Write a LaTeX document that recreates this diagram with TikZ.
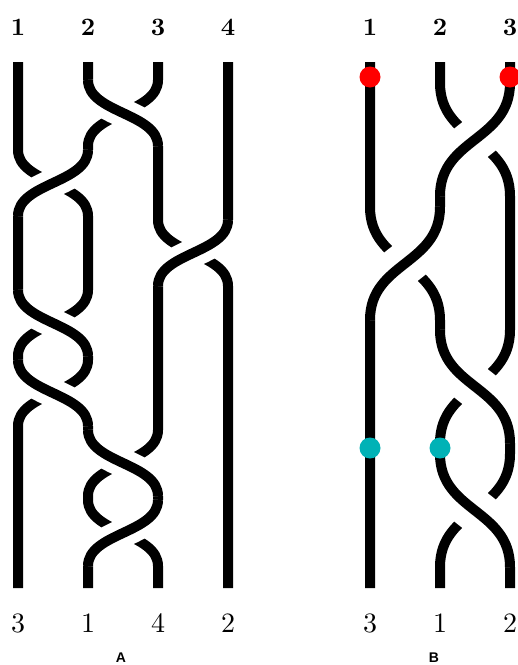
\documentclass[tikz,border=0pt]{standalone}
\usepackage{fontspec}
\newfontfamily\panelfont{Liberation Sans}
\newfontfamily\digitfont{lmroman10-regular}[Extension=.otf]
\newfontfamily\digitbold{lmroman10-bold}[Extension=.otf]
\definecolor{dotred}{RGB}{255,0,0}
\definecolor{dotcyan}{RGB}{0,178,182}
\tikzset{
  strand/.style={line width=10pt, line cap=butt, line join=round, draw=black},
  overA/.style={preaction={draw=white, line width=29pt, line cap=butt}, strand},
  overB/.style={preaction={draw=white, line width=43pt, line cap=butt}, strand},
  toplab/.style={font=\digitbold\fontsize{25}{25}\selectfont, inner sep=0pt},
  botlab/.style={font=\digitfont\fontsize{28}{28}\selectfont, inner sep=0pt},
  panellab/.style={font=\panelfont\bfseries\fontsize{14}{14}\selectfont, inner sep=0pt},
  marker/.style={circle, inner sep=0pt, minimum size=21pt},
}
\begin{document}
\begin{tikzpicture}[x=1pt,y=-1pt]
\useasboundingbox (0,0) rectangle (518,665);
% ---------- braid A : strands ----------
\draw[strand] (18,62) -- (18,150) .. controls (18,183) and (88,183) .. (88,216) -- (88,290) .. controls (88,323) and (18,323) .. (18,356) -- (18,360) .. controls (18,393) and (88,393) .. (88,426) -- (88,430) .. controls (88,463) and (158,463) .. (158,496) -- (158,500) .. controls (158,533) and (88,533) .. (88,566) -- (88,588);
\draw[strand] (88,62) -- (88,80) .. controls (88,113) and (158,113) .. (158,146) -- (158,220) .. controls (158,253) and (228,253) .. (228,286) -- (228,588);
\draw[strand] (158,62) -- (158,80) .. controls (158,113) and (88,113) .. (88,146) -- (88,150) .. controls (88,183) and (18,183) .. (18,216) -- (18,290) .. controls (18,323) and (88,323) .. (88,356) -- (88,360) .. controls (88,393) and (18,393) .. (18,426) -- (18,588);
\draw[strand] (228,62) -- (228,220) .. controls (228,253) and (158,253) .. (158,286) -- (158,430) .. controls (158,463) and (88,463) .. (88,496) -- (88,500) .. controls (88,533) and (158,533) .. (158,566) -- (158,588);
% ---------- braid A : over crossings ----------
\draw[overA] (88,80) .. controls (88,113) and (158,113) .. (158,146);
\draw[overA] (88,150) .. controls (88,183) and (18,183) .. (18,216);
\draw[overA] (228,220) .. controls (228,253) and (158,253) .. (158,286);
\draw[overA] (18,290) .. controls (18,323) and (88,323) .. (88,356);
\draw[overA] (18,360) .. controls (18,393) and (88,393) .. (88,426);
\draw[overA] (88,430) .. controls (88,463) and (158,463) .. (158,496);
\draw[overA] (158,500) .. controls (158,533) and (88,533) .. (88,566);
% ---------- braid B : strands ----------
\draw[strand] (370,62) -- (370,207) .. controls (370,265) and (440,262) .. (440,320) -- (440,330) .. controls (440,388) and (510,385) .. (510,443) -- (510,454) .. controls (510,512) and (440,509) .. (440,567) -- (440,588);
\draw[strand] (440,62) -- (440,83) .. controls (440,141) and (510,138) .. (510,196) -- (510,330) .. controls (510,388) and (440,385) .. (440,443) -- (440,454) .. controls (440,512) and (510,509) .. (510,567) -- (510,588);
\draw[strand] (510,62) -- (510,83) .. controls (510,141) and (440,138) .. (440,196) -- (440,207) .. controls (440,265) and (370,262) .. (370,320) -- (370,588);
% ---------- braid B : over crossings ----------
\draw[overB] (510,83) .. controls (510,141) and (440,138) .. (440,196);
\draw[overB] (440,207) .. controls (440,265) and (370,262) .. (370,320);
\draw[overB] (440,330) .. controls (440,388) and (510,385) .. (510,443);
\draw[overB] (440,454) .. controls (440,512) and (510,509) .. (510,567);
% ---------- markers ----------
\node[marker, fill=dotred] (r1) at (370,77) {};
\node[marker, fill=dotred] (r3) at (510,77) {};
\node[marker, fill=dotcyan] (c1) at (370,448) {};
\node[marker, fill=dotcyan] (c2) at (440,448) {};
% ---------- labels ----------
\node[toplab] (ta1) at (18,27) {1};
\node[toplab] (ta2) at (88,27) {2};
\node[toplab] (ta3) at (158,27) {3};
\node[toplab] (ta4) at (228,27) {4};
\node[toplab] (tb1) at (370,27) {1};
\node[toplab] (tb2) at (440,27) {2};
\node[toplab] (tb3) at (510,27) {3};
\node[botlab] (ba1) at (18,623) {3};
\node[botlab] (ba2) at (88,623) {1};
\node[botlab] (ba3) at (158,623) {4};
\node[botlab] (ba4) at (228,623) {2};
\node[botlab] (bb1) at (370,623) {3};
\node[botlab] (bb2) at (440,623) {1};
\node[botlab] (bb3) at (510,623) {2};
\node[panellab] (pa) at (121,658) {A};
\node[panellab] (pb) at (434,658) {B};
\end{tikzpicture}
\end{document}
